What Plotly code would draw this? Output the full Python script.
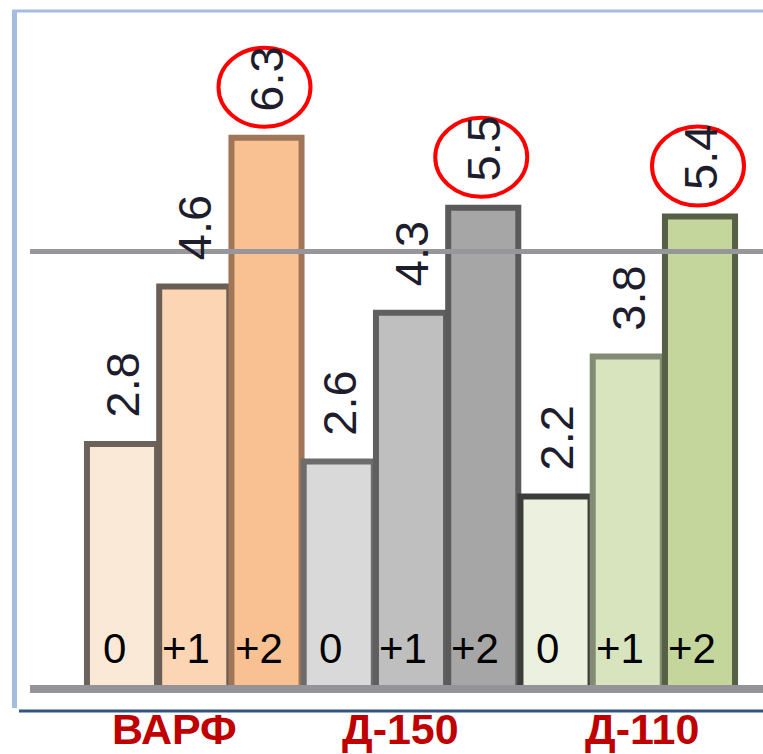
import numpy as np
import plotly.graph_objects as go

# --- data -------------------------------------------------------------
groups = ["ВАРФ", "Д-150", "Д-110"]
levels = ["0", "+1", "+2"]
values = [2.8, 4.6, 6.3, 2.6, 4.3, 5.5, 2.2, 3.8, 5.4]
reference_level = 5.0

# --- styling ----------------------------------------------------------
fill_colors = ["#fbe9d8", "#fcd5b4", "#f9c191",
               "#d9d9d9", "#bfbfbf", "#a6a6a6",
               "#ebf1de", "#d7e4bd", "#c4d69b"]
edge_colors = ["#6b625c", "#6b5e55", "#9f7658",
               "#6c6c6c", "#5f5f5f", "#5a5a5a",
               "#3c3c3a", "#838b74", "#556046"]

W, H = 763, 754
pos = np.arange(len(values))
px_per_unit_x = 72.25
x_first_px = 122
xmin = -x_first_px / px_per_unit_x
xmax = xmin + W / px_per_unit_x

px_per_unit_y = 87.5
base_px = 689
ymin = -(H - base_px) / px_per_unit_y
ymax = base_px / px_per_unit_y

fig = go.Figure()
fig.add_trace(go.Bar(
    x=pos, y=values,
    marker=dict(color=fill_colors, line=dict(color=edge_colors, width=6)),
    hoverinfo="skip",
))

annotations = []
shapes = []

# rotated value labels above each bar
for i, v in zip(pos, values):
    annotations.append(dict(
        x=i, y=v, xref="x", yref="y", text=f"{v:.1f}", showarrow=False,
        textangle=-90, yanchor="bottom", xanchor="center", yshift=24,
        font=dict(family="Liberation Sans, Arial", size=47, color="#1d1d2e"),
    ))

# level labels near the base of each bar
bar_levels = [lv for _ in groups for lv in levels]
for i, lv in zip(pos, bar_levels):
    annotations.append(dict(
        x=i, y=0, xref="x", yref="y", text=lv, showarrow=False,
        yanchor="middle", xanchor="center", yshift=41, xshift=-8,
        font=dict(family="Liberation Sans, Arial", size=42, color="#000000"),
    ))

# group names under the axis
group_shift = [-20, -11, 14]
for g, name in enumerate(groups):
    annotations.append(dict(
        x=pos[g * 3 + 1], y=1 - 729 / H, xref="x", yref="paper", text=f"<b>{name}</b>",
        showarrow=False, yanchor="middle", xanchor="center", xshift=group_shift[g],
        font=dict(family="Liberation Sans, Arial", size=43, color="#c00000"),
    ))

# red rings around the highest value of each group
for g in range(len(groups)):
    k = g * 3 + 2
    shapes.append(dict(
        type="circle", xref="x", yref="y",
        xsizemode="pixel", ysizemode="pixel",
        xanchor=pos[k], yanchor=values[k],
        x0=-48, x1=44, y0=11, y1=90,
        line=dict(color="#ff0000", width=4), layer="above",
    ))

# reference level and base line
shapes.append(dict(type="line", xref="paper", yref="y",
                   x0=30 / W, x1=1, y0=reference_level, y1=reference_level,
                   line=dict(color="#97979b", width=5), layer="above"))
shapes.append(dict(type="line", xref="paper", yref="y",
                   x0=30 / W, x1=1, y0=0, y1=0,
                   line=dict(color="#939398", width=8), layer="above"))

# frame around the plot area
shapes.append(dict(type="line", xref="paper", yref="paper",
                   x0=14.5 / W, x1=14.5 / W, y0=1 - 11 / H, y1=1 - 708 / H,
                   line=dict(color="#a3bde0", width=5), layer="below"))
shapes.append(dict(type="line", xref="paper", yref="paper",
                   x0=12 / W, x1=1, y0=1 - 11 / H, y1=1 - 11 / H,
                   line=dict(color="#a3bde0", width=3), layer="below"))
shapes.append(dict(type="line", xref="paper", yref="paper",
                   x0=19 / W, x1=1, y0=1 - 711 / H, y1=1 - 711 / H,
                   line=dict(color="#34557d", width=3), layer="below"))

fig.update_layout(
    width=W, height=H,
    margin=dict(l=0, r=0, t=0, b=0),
    paper_bgcolor="white", plot_bgcolor="rgba(0,0,0,0)",
    bargap=0.03, showlegend=False,
    xaxis=dict(range=[xmin, xmax], visible=False, fixedrange=True),
    yaxis=dict(range=[ymin, ymax], visible=False, fixedrange=True),
    annotations=annotations, shapes=shapes,
)

fig.write_html("out.html")
